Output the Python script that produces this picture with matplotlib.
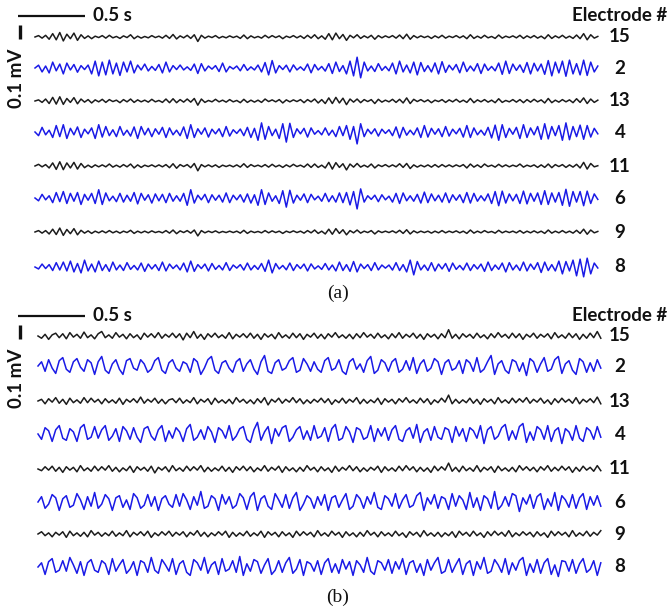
import numpy as np
import matplotlib
matplotlib.use("Agg")
import matplotlib.pyplot as plt

# ---------------- data (µV), panel (a) ----------------
electrodes = ["15", "2", "13", "4", "11", "6", "9", "8"]
colors_seq = ["black", "blue", "black", "blue", "black", "blue", "black", "blue"]

a15 = [0, 10, -8, 12, -16, 24, -20, 32, -28, 20, -12, 28, -24, 16, -10, 8, -12, 6, -4, 10,
       -8, 12, -6, 4, -10, 8, -4, 16, -12, 6, -8, 4, -6, 10, -4, 6, -8, 12, -10, 18,
       -14, 8, -6, 12, -10, 16, -32, 12, -8, 6, -4, 10, -8, 4, -6, 8, -4, 6, -10, 14,
       -12, 8, -6, 4, -8, 12, -6, 10, -4, 8, -12, 6, -4, 10, -6, 8, -10, 12, -8, 16,
       -12, 8, -16, 24, -20, 28, -12, 18, -24, 12, -6, 16, -10, 8, -6, 12, -16, 10, -6, 8,
       -4, 10, -8, 14, -12, 20, -16, 10, -6, 8, -4, 6, -10, 8, -6, 12, -8, 6, -4, 10,
       -6, 8, -12, 16, -10, 6, -8, 12, -6, 4, -10, 14, -8, 6, -4, 8, -6, 12, -10, 8,
       -6, 10, -8, 6, -12, 16, -10, 8, -6, 12, -8, 6, -10, 14, -12, 24, -20, 16, -8, 4]
a2 = [0, 20, -28, 14, -35, 42, -20, 28, -42, 35, -14, 25, -30, 17, -11, 21, -42, 49, -56, 42,
      -49, 56, -42, 35, -53, 42, -28, 49, -35, 21, -14, 28, -21, 11, -17, 25, -35, 42, -28, 17,
      -11, 21, -14, 8, -17, 28, -39, 31, -21, 14, -8, 17, -25, 35, -28, 11, -7, 14, -20, 25,
      -17, 8, -14, 21, -28, 39, -49, 53, -35, 17, -11, 20, -28, 22, -14, 8, -17, 28, -34, 25,
      -14, 11, -22, 31, -39, 42, -25, 17, -42, 49, -56, 77, -70, 42, -21, 14, -25, 31, -17, 11,
      -20, 35, -42, 49, -28, 21, -35, 42, -49, 39, -25, 17, -28, 36, -42, 45, -31, 20, -14, 25,
      -34, 42, -25, 14, -21, 31, -39, 28, -17, 11, -20, 35, -45, 49, -39, 28, -17, 22, -31, 39,
      -42, 34, -21, 28, -45, 53, -56, 42, -35, 49, -59, 56, -42, 31, -49, 56, -53, 42, -28, 14]
a13 = [0, 8, -10, 14, -18, 26, -22, 30, -24, 18, -10, 24, -20, 14, -8, 10, -14, 8, -6, 12,
       -10, 10, -4, 6, -12, 10, -6, 14, -10, 8, -6, 6, -8, 12, -6, 4, -10, 14, -12, 16,
       -12, 10, -8, 14, -8, 18, -30, 14, -10, 4, -6, 12, -6, 6, -8, 10, -6, 4, -12, 12,
       -10, 6, -8, 6, -10, 14, -4, 8, -6, 10, -14, 8, -6, 8, -4, 10, -12, 10, -6, 14,
       -14, 10, -18, 22, -18, 26, -14, 20, -26, 14, -8, 14, -12, 10, -4, 10, -18, 12, -8, 6,
       -6, 12, -10, 12, -14, 22, -18, 12, -4, 10, -6, 8, -12, 6, -4, 10, -10, 8, -6, 12,
       -8, 6, -10, 18, -12, 8, -6, 10, -8, 6, -12, 16, -10, 4, -6, 10, -8, 10, -12, 10,
       -8, 12, -6, 8, -14, 18, -12, 6, -8, 10, -6, 8, -12, 16, -10, 22, -18, 14, -10, 6]
a4 = [0, -26, 33, -20, 13, -39, 46, -33, 52, -46, 26, -20, 36, -39, 20, -13, 29, -46, 52, -36,
      39, -26, 16, -33, 39, -23, 13, -29, 36, -46, 39, -20, 26, -33, 23, -16, 33, -39, 29, -20,
      13, -26, 36, -46, 52, -39, 23, -16, 29, -36, 20, -13, 23, -33, 39, -29, 16, -10, 21, -26,
      33, -39, 26, -59, 65, -52, 39, -26, 20, -46, 59, -72, 62, -39, 23, -13, 26, -36, 29, -16,
      10, -20, 29, -23, 13, -33, 39, -26, 46, -52, 39, -85, 59, -33, 20, -13, 23, -29, 20, -10,
      16, -26, 36, -42, 33, -23, 13, -20, 29, -39, 46, -36, 26, -16, 23, -33, 39, -29, 20, -13,
      26, -36, 46, -39, 29, -20, 13, -23, 33, -42, 49, -59, 52, -39, 26, -16, 33, -46, 52, -39,
      29, -20, 39, -52, 59, -49, 39, -26, 46, -59, 65, -55, 39, -33, 49, -52, 46, -36, 26, -13]
a11 = [0, 12, -6, 10, -14, 22, -24, 30, -26, 22, -14, 26, -22, 18, -12, 6, -10, 8, -6, 8,
       -6, 14, -8, 6, -8, 10, -6, 14, -14, 8, -10, 6, -4, 8, -6, 8, -6, 10, -12, 16,
       -16, 10, -4, 10, -12, 18, -34, 10, -6, 8, -6, 8, -10, 6, -4, 6, -6, 8, -8, 16,
       -10, 10, -4, 6, -6, 10, -8, 12, -6, 6, -10, 8, -6, 12, -4, 6, -8, 14, -10, 14,
       -10, 6, -14, 26, -22, 24, -10, 16, -28, 14, -8, 18, -8, 6, -8, 14, -14, 8, -4, 10,
       -6, 8, -6, 16, -10, 18, -18, 8, -8, 6, -6, 8, -8, 10, -8, 10, -6, 8, -6, 8,
       -4, 10, -14, 14, -8, 8, -10, 14, -4, 6, -8, 12, -6, 8, -6, 6, -4, 14, -8, 6,
       -4, 8, -10, 8, -10, 14, -12, 10, -4, 10, -10, 8, -8, 12, -14, 26, -22, 18, -6, 2]
a6 = [0, -20, 26, -13, 16, -33, 39, -26, 46, -39, 33, -23, 39, -46, 26, -16, 33, -39, 59, -46,
      36, -20, 13, -26, 33, -29, 20, -23, 39, -42, 33, -16, 23, -36, 29, -20, 26, -33, 33, -23,
      16, -23, 33, -52, 59, -36, 20, -13, 26, -33, 23, -16, 20, -29, 36, -33, 20, -13, 23, -29,
      29, -36, 23, -52, 59, -46, 36, -23, 16, -39, 52, -65, 55, -36, 20, -16, 29, -33, 26, -13,
      13, -23, 33, -26, 16, -29, 36, -33, 39, -49, 46, -78, 65, -29, 16, -10, 20, -26, 23, -13,
      13, -29, 33, -39, 36, -20, 16, -23, 26, -36, 42, -33, 29, -20, 20, -29, 36, -33, 23, -16,
      23, -33, 39, -36, 33, -23, 16, -20, 29, -39, 46, -55, 49, -36, 29, -20, 26, -39, 49, -42,
      33, -23, 36, -46, 52, -46, 36, -29, 39, -52, 62, -59, 46, -29, 46, -55, 49, -39, 29, -10]
a9 = [0, 10, -8, 10, -14, 20, -18, 28, -24, 18, -12, 24, -20, 12, -8, 8, -10, 6, -6, 8,
      -6, 10, -6, 6, -8, 6, -4, 12, -10, 6, -6, 6, -6, 8, -4, 4, -6, 10, -8, 14,
      -12, 8, -4, 10, -8, 14, -28, 10, -6, 6, -4, 8, -6, 4, -4, 6, -4, 6, -8, 12,
      -10, 6, -4, 4, -6, 10, -6, 8, -4, 6, -10, 6, -4, 8, -4, 6, -8, 10, -6, 14,
      -10, 6, -14, 20, -16, 24, -10, 16, -20, 10, -6, 14, -8, 6, -4, 10, -14, 8, -4, 6,
      -4, 8, -6, 12, -10, 16, -14, 8, -6, 6, -4, 6, -8, 6, -6, 10, -6, 6, -4, 8,
      -6, 6, -10, 14, -8, 6, -6, 10, -4, 4, -8, 12, -6, 6, -4, 6, -6, 10, -8, 6,
      -6, 8, -6, 6, -10, 14, -8, 6, -6, 10, -6, 6, -8, 12, -10, 20, -16, 14, -6, 4]
a8 = [0, -14, 21, -11, 17, -25, 31, -21, 35, -28, 42, -35, 25, -42, 49, -28, 21, -35, 42, -25,
      17, -31, 35, -21, 14, -25, 31, -17, 11, -21, 28, -31, 21, -14, 17, -25, 35, -28, 21, -11,
      14, -21, 28, -35, 42, -31, 17, -11, 21, -28, 25, -17, 11, -21, 31, -25, 14, -8, 17, -22,
      28, -21, 11, -17, 25, -31, 49, -42, 25, -14, 11, -20, 28, -25, 17, -11, 21, -28, 22, -14,
      8, -17, 25, -21, 14, -28, 35, -25, 17, -31, 39, -35, 21, -11, 17, -25, 31, -21, 14, -8,
      14, -22, 31, -25, 17, -35, 49, -56, 39, -21, 14, -25, 31, -28, 21, -14, 25, -31, 28, -17,
      11, -21, 28, -25, 17, -14, 21, -31, 35, -25, 14, -17, 28, -35, 31, -21, 14, -25, 35, -28,
      21, -17, 31, -39, 35, -25, 17, -28, 42, -49, 39, -28, 49, -63, 56, -70, 63, -49, 28, -7]

# ---------------- data (µV), panel (b) ----------------
b15 = [0, -16, 12, -24, 8, 20, -12, 16, -20, 24, -8, 12, -16, 28, -12, 8, -20, 16, 32, -12,
       8, -16, 24, -8, 12, -20, 16, -12, 8, -24, 20, -8, 16, -12, 24, -16, 12, -8, 20, -12,
       16, -28, 20, -12, 32, -16, 12, -24, 16, -8, 20, -12, 8, -16, 24, -20, 12, -8, 16, -12,
       20, -16, 12, -24, 16, -8, 12, -20, 24, -12, 8, -16, 20, -12, 16, -24, 12, -8, 20, -16,
       12, -20, 16, -8, 24, -12, 8, -16, 12, -20, 16, -12, 24, -8, 12, -16, 20, -12, 8, -20,
       16, -12, 24, -16, 12, -8, 20, -16, 12, -24, 16, -8, 12, -20, 16, -12, 45, -16, 12, -20,
       16, -8, 12, -16, 20, -12, 8, -20, 16, -12, 24, -8, 12, -16, 20, -12, 16, -24, 12, -8,
       20, -16, 12, -8, 16, -20, 24, -12, 8, -16, 20, -12, 16, -24, 12, -16, 20, -12, 32, -16]
b2 = [0, 30, -38, 45, -15, -53, 38, 60, -23, -45, 30, 53, -8, -38, 45, 23, -60, 30, 68, -30,
      -53, 15, 45, -23, -60, 38, 53, -15, -30, 45, 15, -45, -23, 38, 60, -30, -53, 23, 45, -15,
      -38, 30, 15, -45, 53, 30, -60, -15, 45, 68, -30, -53, 23, 38, -15, -45, 30, 53, -38, 15,
      45, -23, -60, 30, 75, -38, -53, 23, 45, -30, -15, 38, 60, -45, -30, 53, 15, -38, 30, -23,
      -45, 38, 60, -30, -15, 45, -38, -60, 30, 53, -23, 15, -45, 38, 68, -53, -30, 45, 23, -38,
      30, 53, -45, -23, 38, -30, 60, -53, 15, 45, -38, -15, 53, 30, -60, 23, 45, -30, -15, 38,
      -53, 45, 23, -38, 60, -45, -23, 30, 75, -60, 15, 38, -30, -53, 45, 30, -38, 23, -68, 53,
      30, -45, 15, 60, -38, -23, 45, 68, -53, 15, 38, -30, -60, 53, 30, -45, 23, -38, 45, -15]
b13 = [0, 12, -20, 16, -8, 24, -16, 12, -24, 20, -12, 8, -16, 24, -12, 20, -8, 12, -20, 16,
       -12, 8, -16, 20, -24, 12, -8, 16, -12, 28, -16, 12, -8, 20, -16, 12, -20, 8, 16, -12,
       20, -16, 8, -12, 24, -20, 12, -8, 16, -24, 20, -12, 8, -16, 12, -20, 24, -8, 12, -16,
       8, -20, 16, -12, 24, -28, 12, -8, 20, -16, 12, -8, 24, -12, 16, -20, 8, -16, 12, -8,
       20, -12, 16, -24, 8, -12, 20, -16, 12, -8, 24, -20, 12, -16, 8, -12, 20, -24, 16, -8,
       12, -20, 16, -8, 24, -12, 8, -16, 20, -12, 16, -24, 8, -12, 20, -8, 42, -20, 12, -16,
       8, -12, 20, -16, 12, -24, 16, -8, 12, -20, 24, -12, 8, -16, 20, -12, 16, -8, 24, -16,
       12, -8, 20, -16, 8, -24, 16, -12, 20, -8, 12, -16, 24, -20, 12, -8, 16, -12, 28, -20]
b4 = [0, -38, 45, 23, -53, 30, 60, -30, -45, 38, 15, -53, 45, 68, -38, -23, 53, -30, 30, 60,
      -45, -15, 38, -53, 53, 23, -38, 45, -23, -60, 38, 53, -15, -45, 30, 60, -53, 23, -30, 45,
      15, -53, 38, 68, -45, -23, 30, -38, 53, 15, -60, 45, 23, -30, 60, -45, -15, 38, 53, -38,
      -60, 30, 83, -45, 15, 53, -68, 38, -15, 45, 60, -53, -23, 30, 53, -38, 23, -45, 60, -30,
      -15, 45, -53, 38, 68, -45, -30, 53, 15, -60, 45, 30, -38, -23, 60, -53, 38, -15, 45, -45,
      30, 60, -38, -53, 23, 45, -30, 68, -60, 15, 38, -45, 53, -23, -38, 45, 30, -60, 53, -15,
      38, -53, 45, 23, -30, 60, -68, 30, 53, -38, -15, 45, 68, -45, 23, -38, 53, 75, -60, 15,
      -45, 53, 30, -38, 60, -53, 23, 45, -68, 38, 15, -45, 60, -30, -53, 45, 23, -38, 53, -23]
b11 = [0, -12, 16, -8, 20, -16, 12, -24, 16, -8, 12, -20, 24, -12, 8, -16, 20, -12, 16, -8,
       24, -16, 12, -20, 8, -12, 20, -24, 16, -8, 12, -16, 20, -28, 12, -8, 16, -20, 24, -12,
       8, -16, 20, -12, 16, -8, 24, -20, 12, -16, 8, -12, 20, -16, 12, -24, 16, -8, 20, -12,
       16, -20, 8, -12, 24, -16, 12, -8, 20, -24, 16, -12, 8, -20, 12, -16, 24, -8, 12, -20,
       16, -12, 8, -24, 20, -16, 12, -8, 24, -12, 16, -20, 8, -16, 12, -8, 20, -24, 16, -12,
       8, -16, 20, -12, 24, -8, 16, -20, 12, -16, 8, -24, 20, -12, 16, -8, 42, -16, 12, -20,
       20, -12, 8, -16, 24, -20, 12, -8, 16, -24, 20, -12, 8, -16, 12, -20, 24, -8, 16, -12,
       12, -20, 16, -8, 24, -16, 12, -12, 20, -8, 16, -24, 12, -16, 20, -8, 12, -16, 24, -12]
b6 = [0, 38, -45, -15, 53, 30, -60, 23, 45, -38, -23, 60, 15, -53, 38, -30, 68, -45, -15, 53,
      23, -60, 30, 45, -38, 15, -53, 60, 30, -45, -23, 53, -30, 38, -60, 23, 45, -15, -38, 53,
      -30, 60, 15, -53, 38, -23, 75, -45, -30, 45, 23, -60, 53, -15, 38, -45, -23, 60, 30, -53,
      38, 68, -60, 23, 45, -30, -53, 60, 15, -38, 53, -45, 30, 68, -60, -15, 45, 23, -45, 38,
      -23, 53, -60, 30, 45, -38, 15, 60, -53, -30, 53, 23, -45, 38, -15, 68, -38, -53, 45, 23,
      -30, 60, -45, 15, 53, -38, -23, 45, 68, -60, 30, -15, 53, -45, 38, 23, -53, 60, -30, 45,
      15, -53, 68, -38, 30, -60, 45, 23, -45, 75, -53, -23, 38, -30, 60, 45, -68, 30, -15, 53,
      -45, 38, 60, -53, 23, -30, 68, -60, 45, 15, -38, 53, -45, 30, 60, -53, 38, -23, 45, -30]
b9 = [0, 16, -12, 8, -20, 12, -8, 16, -24, 20, -12, 8, -16, 12, -20, 24, -8, 12, -16, 8,
      -12, 20, -16, 8, -12, 24, -20, 12, -8, 16, -12, 20, -24, 8, -12, 16, -8, 20, -16, 12,
      -8, 16, -20, 12, -8, 24, -16, 12, -20, 8, -12, 16, -8, 20, -24, 12, -16, 8, -12, 20,
      -16, 8, -12, 20, -24, 16, -8, 12, -20, 16, -12, 8, -24, 20, -12, 16, -8, 12, -20, 24,
      -12, 8, -16, 20, -8, 12, -24, 16, -12, 8, -20, 12, -16, 24, -8, 12, -20, 16, -12, 8,
      -16, 20, -12, 8, -24, 16, -8, 12, -20, 24, -12, 8, -16, 12, -20, 8, -12, 16, -24, 20,
      -8, 12, -16, 20, -12, 8, -24, 16, -12, 20, -8, 12, -16, 24, -20, 8, -12, 16, -8, 12,
      -20, 16, -12, 8, -24, 20, -12, 16, -8, 12, -20, 24, -16, 8, -12, 20, -16, 12, -8, 24]
b8 = [0, 30, -53, 38, 60, -38, -23, 45, -30, 68, 15, -45, 38, -60, 30, 53, -23, -38, 45, 23,
      -53, 60, -30, 15, 53, -45, -15, 38, -60, 45, 30, -38, 68, -23, -45, 53, 15, -30, 60, -53,
      23, 45, -38, -60, 53, 30, -23, 68, -45, 15, 38, -53, 60, -30, -15, 45, -38, 75, -60, 23,
      -30, 53, 38, -45, 15, 60, -53, -23, 45, -38, 30, 68, -45, -15, 53, -60, 38, 23, -30, 45,
      -53, 30, 60, -38, 23, -45, 53, -15, 38, -60, 45, 15, -38, 68, -30, -53, 45, 30, -23, 53,
      -45, 38, -15, 60, -53, 30, 45, -38, 23, -60, 53, -23, 30, 68, -45, -30, 53, -38, 15, 60,
      -53, 23, 45, -60, 38, -15, 68, -45, -30, 53, 15, -38, 60, -53, 30, -23, 45, 68, -60, 23,
      -38, 53, -45, 30, 60, -53, 15, -68, 45, 38, -30, 53, -45, 23, 60, -38, -15, 45, -60, 30]

panel_a = [a15, a2, a13, a4, a11, a6, a9, a8]
panel_b = [b15, b2, b13, b4, b11, b6, b9, b8]
duration = 4.2  # seconds shown per trace
scale_t = 0.5   # s
scale_v = 100   # µV (0.1 mV)

# ---------------- layout ----------------
W, H, DPI = 671, 607, 100
PX_PER_S = 134.0
PX_PER_UV = 0.14

def X(px):
    return (px - 35) / PX_PER_S

def Y(px):
    return -px / PX_PER_UV

fig = plt.figure(figsize=(W / DPI, H / DPI), dpi=DPI)
ax = fig.add_axes([0, 0, 1, 1])
ax.set_xlim(X(0), X(W))
ax.set_ylim(Y(H), Y(0))
ax.axis("off")

col = {"black": "#1c1c1c", "blue": "#1a1ae6"}
bold = dict(family=["Lato", "DejaVu Sans"], fontweight="bold", color="#111111")
FS = 13.5

panels = [
    dict(data=panel_a, x0=35, rows=[37, 68, 101, 132, 166, 198, 232, 267],
         bar_y=15.7, vbar=(25, 39), mv_y=78, lab="(a)", lab_y=293),
    dict(data=panel_b, x0=38, rows=[336, 366, 401, 434, 469, 502, 534, 567],
         bar_y=315.5, vbar=(325, 339), mv_y=378, lab="(b)", lab_y=597),
]

for p in panels:
    for series, name, c, row in zip(p["data"], electrodes, colors_seq, p["rows"]):
        v = np.array(series, dtype=float)
        t = np.linspace(0, duration, len(v)) + X(p["x0"])
        ax.plot(t, Y(row) + v, color=col[c], lw=1.1, solid_joinstyle="round")
        ax.text(X(620), Y(row), name, ha="center", va="center", fontsize=FS, **bold)
    # time scale bar
    ax.plot([X(18), X(18) + scale_t], [Y(p["bar_y"])] * 2, color="#111111", lw=1.6,
            solid_capstyle="butt")
    ax.text(X(93), Y(p["bar_y"] - 0.5), "0.5 s", ha="left", va="center", fontsize=FS, **bold)
    # voltage scale bar
    ax.plot([X(20)] * 2, [Y(p["vbar"][1]), Y(p["vbar"][1]) + scale_v], color="#111111",
            lw=2.4, solid_capstyle="butt")
    ax.text(X(16.5), Y(p["mv_y"]), "0.1 mV", ha="center", va="center", rotation=90,
            fontsize=FS, **bold)
    ax.text(X(620), Y(p["bar_y"]), "Electrode #", ha="center", va="center",
            fontsize=FS, **bold)
    ax.text(X(338), Y(p["lab_y"]), p["lab"], ha="center", va="center", fontsize=14,
            family="Liberation Serif", color="#111111")

fig.savefig("out.png", dpi=DPI)
